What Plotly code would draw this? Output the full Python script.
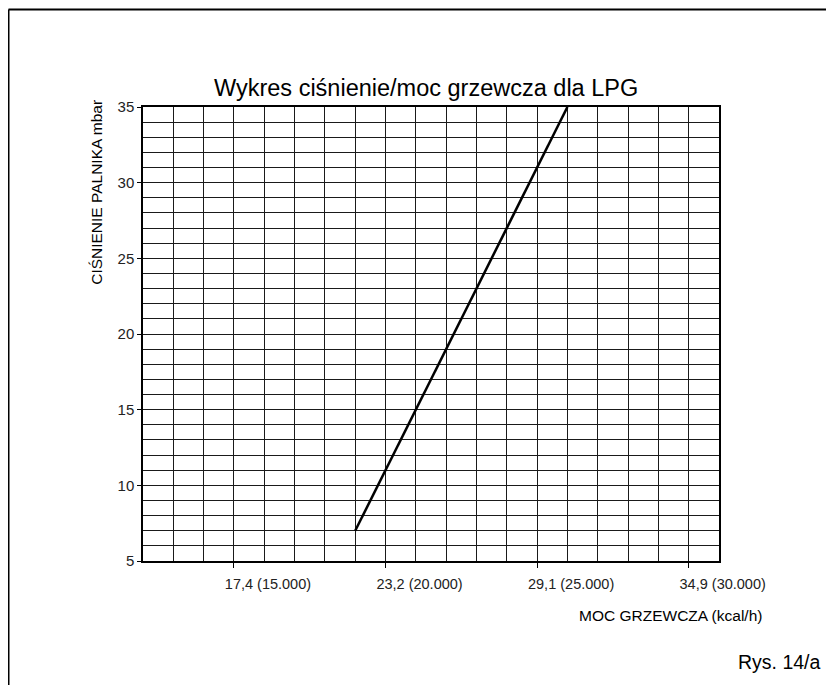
import plotly.graph_objects as go

# Data
heat_kcal = [19000, 26000]          # kcal/h
pressure_mbar = [7, 35]             # mbar

x_tick_vals = [15000, 20000, 25000, 30000]
x_tick_text = ["17,4 (15.000)", "23,2 (20.000)", "29,1 (25.000)", "34,9 (30.000)"]
y_tick_vals = [5, 10, 15, 20, 25, 30, 35]
y_tick_text = ["5", "10", "15", "20", "25", "30", "35"]

title_text = "Wykres ciśnienie/moc grzewcza dla LPG"
x_title = "MOC GRZEWCZA (kcal/h)"
y_title = "CIŚNIENIE PALNIKA mbar"
fig_label = "Rys. 14/a"

FONT = "Liberation Sans, Arial, sans-serif"

fig = go.Figure()
fig.add_trace(go.Scatter(
    x=heat_kcal, y=pressure_mbar, mode="lines",
    line=dict(color="black", width=2.5), hoverinfo="skip", showlegend=False,
))

grid_col = "#1a1a1a"
fig.update_layout(
    width=826, height=677,
    margin=dict(l=135, r=115, t=99, b=124),
    paper_bgcolor="white", plot_bgcolor="white",
    font=dict(family=FONT, color="#222", size=15),
    xaxis=dict(
        range=[12000, 31000], tickvals=x_tick_vals, ticktext=x_tick_text,
        showgrid=True, gridcolor=grid_col, gridwidth=1,
        minor=dict(tick0=12000, dtick=1000, showgrid=True, gridcolor=grid_col, gridwidth=1),
        ticks="outside", ticklen=5, tickcolor="black", tickwidth=1,
        showline=True, linecolor="black", linewidth=1.5, mirror=True,
        zeroline=False, ticklabelstandoff=4, ticklabelshift=34,
        tickfont=dict(size=14.5, family=FONT, color="#222"),
    ),
    yaxis=dict(
        range=[5, 35], tickvals=y_tick_vals, ticktext=y_tick_text,
        showgrid=True, gridcolor=grid_col, gridwidth=1,
        minor=dict(tick0=5, dtick=1, showgrid=True, gridcolor=grid_col, gridwidth=1),
        ticks="outside", ticklen=4, tickcolor="black", tickwidth=1,
        showline=True, linecolor="black", linewidth=1.5, mirror=True,
        zeroline=False,
        tickfont=dict(size=15, family=FONT, color="#222"),
    ),
)

# text annotations
fig.add_annotation(text=title_text, xref="paper", yref="paper", x=0.491, y=1.042,
                   xanchor="center", yanchor="middle", showarrow=False,
                   font=dict(size=23.5, family=FONT, color="black"))
fig.add_annotation(text=x_title, xref="paper", yref="paper", x=1.078, y=-0.119,
                   xanchor="right", yanchor="middle", showarrow=False,
                   font=dict(size=15.5, family=FONT, color="black"))
fig.add_annotation(text=y_title, xref="paper", yref="paper", x=-0.08, y=0.813,
                   xanchor="center", yanchor="middle", showarrow=False, textangle=-90,
                   font=dict(size=15.5, family=FONT, color="black"))
fig.add_annotation(text=fig_label, xref="paper", yref="paper", x=1.181, y=-0.2225,
                   xanchor="right", yanchor="middle", showarrow=False,
                   font=dict(size=19.5, family=FONT, color="black"))

# outer frame (top and left edges)
fig.add_shape(type="line", xref="paper", yref="paper",
              x0=(0.5 - 135) / 576, x1=(840 - 135) / 576,
              y0=(553 - 1.5) / 454, y1=(553 - 1.5) / 454,
              line=dict(color="black", width=2))
fig.add_shape(type="line", xref="paper", yref="paper",
              x0=(0.5 - 135) / 576, x1=(0.5 - 135) / 576,
              y0=(553 - 1.5) / 454, y1=(553 - 700) / 454,
              line=dict(color="black", width=2))

fig.write_html("out.html")
